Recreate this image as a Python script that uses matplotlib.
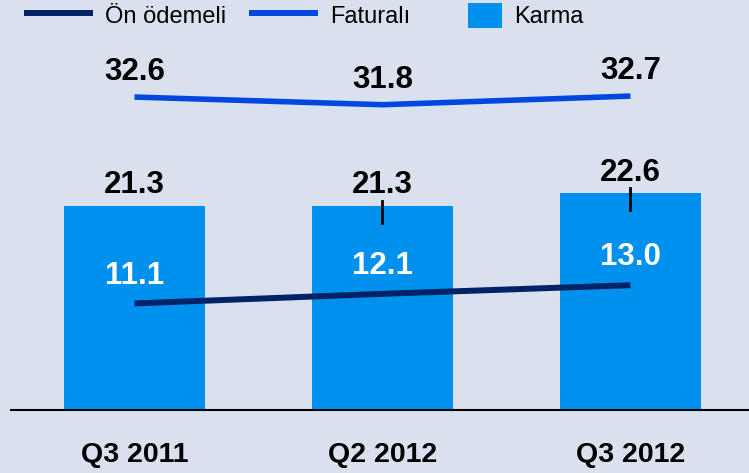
import matplotlib
matplotlib.use("Agg")
import matplotlib.pyplot as plt
from matplotlib.lines import Line2D
from matplotlib.patches import Patch, Rectangle
from matplotlib.legend_handler import HandlerBase

categories = ["Q3 2011", "Q2 2012", "Q3 2012"]
karma = [21.3, 21.3, 22.6]
faturali = [32.6, 31.8, 32.7]
on_odemeli = [11.1, 12.1, 13.0]

BG = "#d9e1ef"
BAR = "#0091ef"
FAT = "#0047e0"
ONO = "#002266"
FONT = "Liberation Sans"
PX = 72 / 100  # points per pixel


class SquareHandler(HandlerBase):
    def create_artists(self, legend, orig_handle, xdescent, ydescent, width, height, fontsize, trans):
        w, h = 34 * PX, 25 * PX
        r = Rectangle((width - w - xdescent, -ydescent + height / 2 - h / 2), w, h,
                      facecolor=orig_handle.get_facecolor(), edgecolor="none", transform=trans)
        return [r]


W, H = 749, 473
fig = plt.figure(figsize=(W / 100, H / 100), dpi=100, facecolor=BG)
left_px, right_px = 10.5, 749.5
bot_px, top_px = 410, 26
ax = fig.add_axes([left_px / W, (H - bot_px) / H, (right_px - left_px) / W, (bot_px - top_px) / H])
ax.set_facecolor(BG)
ax.set_xlim(-0.5, 2.48)
ax.set_ylim(0, 40)

x = list(range(len(categories)))
ax.bar(x, karma, width=0.565, color=BAR, zorder=1)
ax.plot(x, faturali, color=FAT, lw=4, solid_capstyle="butt", zorder=3)
ax.plot(x, on_odemeli, color=ONO, lw=4.3, solid_capstyle="butt", zorder=3)

# small marks at bar tops
for i in [1, 2]:
    ax.plot([x[i], x[i]], [karma[i] - 1.8, karma[i] + 0.5], color="black", lw=2, zorder=4)

lab = dict(ha="center", va="center", fontsize=22.5, fontweight="bold", family=FONT)
for i in x:
    ax.annotate(f"{faturali[i]:.1f}", (x[i], faturali[i]), xytext=(0, 18), textcoords="offset points", color="black", **lab)
    ax.annotate(f"{karma[i]:.1f}", (x[i], karma[i]), xytext=(0, 14.5), textcoords="offset points", color="black", **lab)
    ax.annotate(f"{on_odemeli[i]:.1f}", (x[i], on_odemeli[i]), xytext=(0, 20), textcoords="offset points", color="white", **lab)

for s in ["top", "right", "left"]:
    ax.spines[s].set_visible(False)
ax.spines["bottom"].set_linewidth(1.5)
ax.spines["bottom"].set_color("black")
ax.set_yticks([])
ax.set_xticks(x)
ax.set_xticklabels(categories, family=FONT, fontweight="bold", fontsize=20.5)
ax.tick_params(axis="x", length=0, pad=23)

karma_handle = Patch(facecolor=BAR, edgecolor="none")
handles = [Line2D([], [], color=ONO, lw=4.3, solid_capstyle="butt"),
           Line2D([], [], color=FAT, lw=4.3, solid_capstyle="butt"),
           karma_handle]
fs = 17
fspx = fs / PX
fig.legend(handles, ["Ön ödemeli", "Faturalı", "Karma"], loc="center left",
           bbox_to_anchor=(24 / W, 1 - 15.5 / H), ncol=3, frameon=False,
           prop={"family": FONT, "size": fs}, handlelength=69 / fspx,
           handletextpad=12 / fspx, columnspacing=23 / fspx,
           borderpad=0, borderaxespad=0, handleheight=1.2,
           handler_map={karma_handle: SquareHandler()})
fig.savefig("out.png", dpi=100, facecolor=BG)
